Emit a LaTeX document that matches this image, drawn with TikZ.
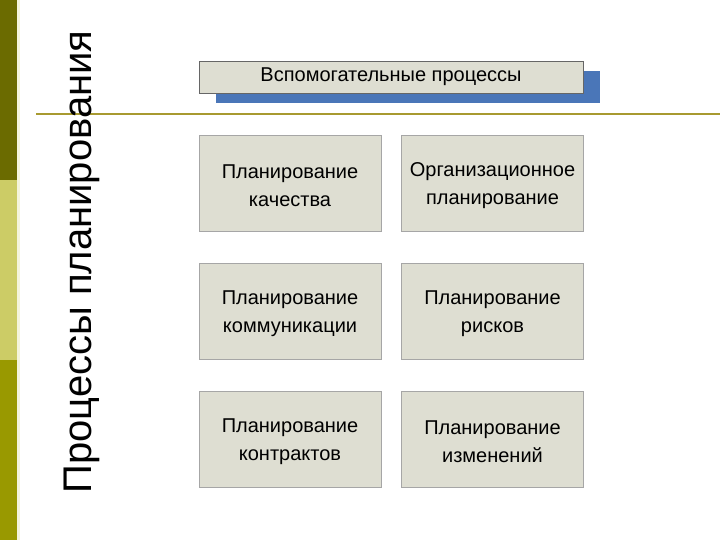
\documentclass[tikz,border=0pt]{standalone}
\usepackage{fontspec}
\setmainfont{Liberation Sans}
\definecolor{boxc}{HTML}{DEDED2}
\definecolor{s1}{HTML}{6B6B00}
\definecolor{s2}{HTML}{CCCC66}
\definecolor{s3}{HTML}{999900}
\definecolor{s4}{HTML}{F4F4DC}
\definecolor{lc}{HTML}{A89A30}
\definecolor{bl}{HTML}{4A76B8}
\begin{document}
\begin{tikzpicture}[x=1pt,y=-1pt,
  box/.style={draw=gray!70,fill=boxc,minimum width=182pt,minimum height=96pt,inner sep=0pt},
  txt/.style={align=center,inner sep=0pt,font=\fontsize{20}{28}\selectfont},
]
\useasboundingbox (0,0) rectangle (720,540);
\fill[white] (0,0) rectangle (720,540);
\fill[s1] (0,0) rectangle (17,180);
\fill[s2] (0,180) rectangle (17,360);
\fill[s3] (0,360) rectangle (17,540);
\fill[s4] (17,0) rectangle (20,540);
\coordinate (l1) at (36,114); \coordinate (l2) at (720,114);
\draw[lc,line width=1.5pt] (l1) -- (l2);
\node[rotate=90,font=\fontsize{40}{44}\selectfont,inner sep=0pt] (title) at (82,262) {Процессы планирования};
\fill[bl] (216,71) rectangle (600,103);
\node[box,minimum width=384pt,minimum height=32pt,draw=gray!80!black] (h) at (391,77) {};
\node[txt] (ht) at (391,77) {Вспомогательные процессы};
\node[box] (a) at (290,183) {};
\node[box] (b) at (492.5,183) {};
\node[box] (c) at (290,311) {};
\node[box] (d) at (492.5,311) {};
\node[box] (e) at (290,439) {};
\node[box] (f) at (492.5,439) {};
\node[txt,yshift=-3pt] at (a) {Планирование\\качества};
\node[txt,yshift=-3pt] at (b) {Организационное\\планирование};
\node[txt,yshift=-3pt] at (c) {Планирование\\коммуникации};
\node[txt,yshift=-3pt] at (d) {Планирование\\рисков};
\node[txt,yshift=-3pt] at (e) {Планирование\\контрактов};
\node[txt,yshift=-3pt] at (f) {Планирование\\изменений};
\end{tikzpicture}
\end{document}
